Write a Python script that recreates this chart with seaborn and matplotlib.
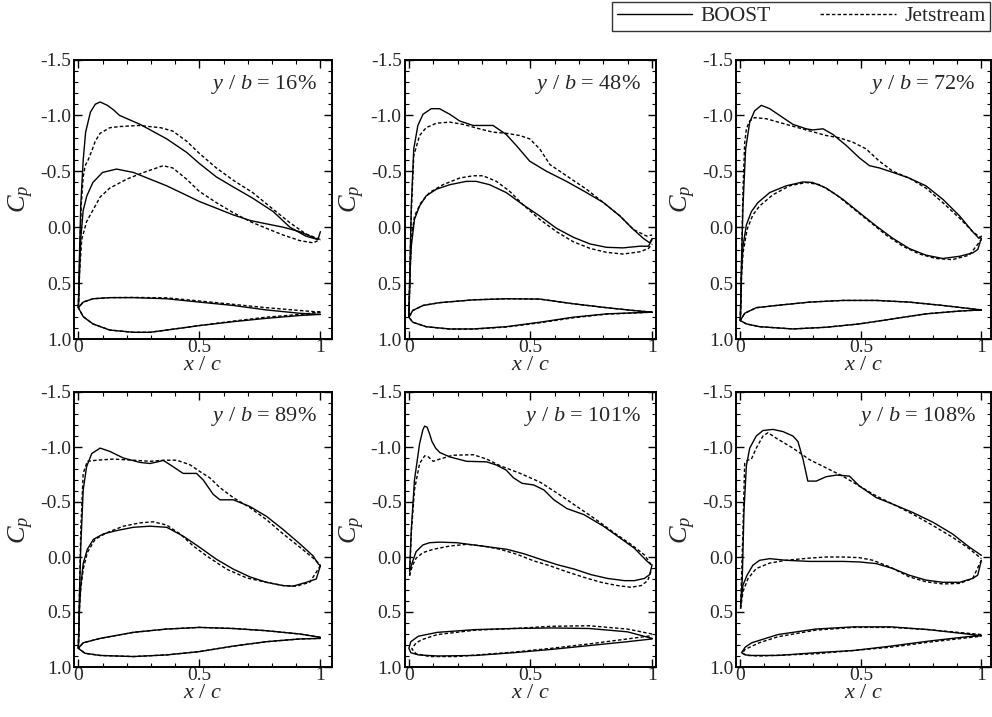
import matplotlib
matplotlib.use("Agg")
import matplotlib.pyplot as plt
import seaborn as sns
from matplotlib.lines import Line2D
from matplotlib.ticker import MultipleLocator

sns.set_theme(style="ticks")
plt.rcParams['font.family'] = ['Liberation Serif', 'DejaVu Serif']
plt.rcParams['mathtext.fontset'] = 'custom'
plt.rcParams['mathtext.it'] = 'Liberation Serif:italic'
plt.rcParams['mathtext.rm'] = 'Liberation Serif'
plt.rcParams['axes.unicode_minus'] = False

# ---------------- data ----------------
STATIONS = ["16", "48", "72", "89", "101", "108"]
SOLVERS = ["BOOST", "Jetstream"]
X_TICKS = [0, 0.5, 1]
X_TICKLABELS = ["0", "0.5", "1"]
Y_TICKS = [-1.5, -1.0, -0.5, 0.0, 0.5, 1.0]
Y_TICKLABELS = ["-1.5", "-1.0", "-0.5", "0.0", "0.5", "1.0"]

# --- y/b = 16% ---
B16_UP = [(0.0,0.72),(0.004,0.3),(0.01,-0.2),(0.02,-0.6),(0.03,-0.85),(0.05,-1.03),(0.07,-1.1),(0.09,-1.12),(0.12,-1.09),(0.145,-1.05),(0.17,-1.0),(0.255,-0.92),(0.365,-0.79),(0.447,-0.67),(0.5,-0.57),(0.57,-0.45),(0.64,-0.36),(0.72,-0.26),(0.805,-0.14),(0.874,0.0),(0.94,0.08),(0.99,0.11),(1.0,0.04)]
B16_LO = [(0.0,0.72),(0.005,0.4),(0.01,0.1),(0.02,-0.15),(0.035,-0.28),(0.06,-0.40),(0.1,-0.49),(0.158,-0.52),(0.227,-0.49),(0.296,-0.43),(0.365,-0.37),(0.433,-0.30),(0.5,-0.23),(0.57,-0.17),(0.64,-0.11),(0.71,-0.06),(0.777,-0.03),(0.846,0.0),(0.915,0.04),(0.99,0.11)]
J16_UP = [(0.0,0.72),(0.005,0.3),(0.012,-0.2),(0.02,-0.45),(0.028,-0.55),(0.04,-0.6),(0.055,-0.68),(0.07,-0.77),(0.09,-0.84),(0.13,-0.89),(0.17,-0.90),(0.25,-0.91),(0.34,-0.89),(0.39,-0.86),(0.447,-0.77),(0.5,-0.66),(0.57,-0.53),(0.64,-0.42),(0.72,-0.31),(0.805,-0.16),(0.874,-0.04),(0.94,0.06),(1.0,0.11)]
J16_LO = [(0.0,0.72),(0.005,0.4),(0.014,0.11),(0.034,-0.05),(0.062,-0.16),(0.09,-0.27),(0.13,-0.35),(0.2,-0.43),(0.27,-0.49),(0.35,-0.55),(0.39,-0.53),(0.447,-0.43),(0.5,-0.32),(0.57,-0.22),(0.64,-0.13),(0.71,-0.05),(0.777,0.01),(0.846,0.07),(0.915,0.12),(0.97,0.14),(1.0,0.11)]
B16_SH_UP = [(0.0,0.72),(0.02,0.67),(0.06,0.64),(0.13,0.63),(0.227,0.63),(0.365,0.64),(0.5,0.67),(0.64,0.70),(0.777,0.74),(0.915,0.77),(1.0,0.78)]
B16_SH_LO = [(0.0,0.72),(0.02,0.80),(0.06,0.865),(0.13,0.92),(0.227,0.94),(0.296,0.94),(0.365,0.92),(0.5,0.88),(0.64,0.845),(0.777,0.815),(0.915,0.79),(1.0,0.78)]
J16_SH_UP = [(0.0,0.72),(0.02,0.67),(0.06,0.64),(0.13,0.63),(0.227,0.628),(0.365,0.632),(0.5,0.66),(0.64,0.69),(0.777,0.72),(0.915,0.745),(1.0,0.76)]
J16_SH_LO = [(0.0,0.72),(0.02,0.80),(0.06,0.865),(0.13,0.92),(0.227,0.94),(0.296,0.94),(0.365,0.92),(0.5,0.88),(0.64,0.84),(0.777,0.805),(0.915,0.78),(1.0,0.76)]

# --- y/b = 48% ---
B48_UP = [(0.0,0.80),(0.005,0.3),(0.01,-0.19),(0.02,-0.70),(0.037,-0.91),(0.058,-1.01),(0.092,-1.06),(0.126,-1.06),(0.168,-1.01),(0.209,-0.95),(0.264,-0.91),(0.346,-0.91),(0.40,-0.83),(0.442,-0.73),(0.497,-0.59),(0.566,-0.50),(0.648,-0.41),(0.73,-0.31),(0.80,-0.22),(0.868,-0.10),(0.923,0.02),(0.964,0.10),(0.99,0.14),(1.0,0.10)]
B48_LO = [(0.0,0.80),(0.005,0.4),(0.01,0.17),(0.023,-0.07),(0.044,-0.19),(0.071,-0.28),(0.113,-0.34),(0.168,-0.38),(0.236,-0.41),(0.277,-0.41),(0.332,-0.38),(0.40,-0.31),(0.47,-0.20),(0.538,-0.10),(0.607,0.01),(0.676,0.09),(0.745,0.15),(0.813,0.18),(0.88,0.185),(0.95,0.17),(0.985,0.17),(1.0,0.11)]
J48_UP = [(0.0,0.80),(0.005,0.3),(0.01,-0.13),(0.02,-0.64),(0.044,-0.82),(0.071,-0.89),(0.113,-0.93),(0.168,-0.94),(0.223,-0.92),(0.29,-0.88),(0.346,-0.85),(0.40,-0.84),(0.456,-0.82),(0.497,-0.79),(0.538,-0.70),(0.58,-0.56),(0.648,-0.46),(0.73,-0.34),(0.80,-0.22),(0.868,-0.10),(0.923,0.02),(0.978,0.08),(1.0,0.07)]
J48_LO = [(0.0,0.80),(0.005,0.4),(0.01,0.11),(0.023,-0.10),(0.05,-0.22),(0.085,-0.31),(0.14,-0.38),(0.209,-0.44),(0.264,-0.46),(0.305,-0.46),(0.36,-0.41),(0.415,-0.32),(0.47,-0.20),(0.538,-0.07),(0.607,0.04),(0.676,0.13),(0.745,0.19),(0.813,0.225),(0.88,0.24),(0.95,0.22),(0.985,0.19),(1.0,0.15)]
B48_SH_UP = [(0.0,0.805),(0.016,0.745),(0.058,0.70),(0.126,0.675),(0.264,0.65),(0.40,0.64),(0.538,0.643),(0.676,0.685),(0.813,0.72),(0.923,0.745),(1.0,0.76)]
B48_SH_LO = [(0.0,0.805),(0.016,0.85),(0.071,0.89),(0.168,0.91),(0.264,0.91),(0.40,0.89),(0.538,0.85),(0.676,0.805),(0.813,0.775),(1.0,0.76)]
J48_SH_UP = B48_SH_UP
J48_SH_LO = [(0.0,0.805),(0.016,0.85),(0.071,0.89),(0.168,0.912),(0.264,0.912),(0.40,0.893),(0.538,0.855),(0.676,0.81),(0.813,0.778),(1.0,0.76)]

# --- y/b = 72% ---
B72_UP = [(0.0,0.835),(0.005,0.3),(0.011,-0.19),(0.022,-0.70),(0.039,-0.94),(0.059,-1.04),(0.087,-1.09),(0.122,-1.06),(0.163,-1.00),(0.218,-0.92),(0.273,-0.88),(0.30,-0.87),(0.343,-0.88),(0.384,-0.83),(0.44,-0.73),(0.494,-0.62),(0.536,-0.55),(0.577,-0.53),(0.633,-0.49),(0.70,-0.44),(0.77,-0.37),(0.84,-0.25),(0.91,-0.10),(0.964,0.04),(0.99,0.10),(1.0,0.08)]
B72_LO = [(0.0,0.835),(0.005,0.4),(0.011,0.17),(0.025,-0.02),(0.046,-0.14),(0.073,-0.22),(0.122,-0.31),(0.19,-0.37),(0.26,-0.405),(0.30,-0.40),(0.356,-0.35),(0.425,-0.25),(0.494,-0.13),(0.564,-0.01),(0.633,0.10),(0.70,0.19),(0.77,0.25),(0.84,0.28),(0.91,0.26),(0.964,0.23),(0.985,0.20),(1.0,0.10)]
J72_UP = [(0.0,0.835),(0.005,0.3),(0.011,-0.34),(0.018,-0.75),(0.025,-0.88),(0.039,-0.95),(0.059,-0.98),(0.108,-0.97),(0.19,-0.92),(0.273,-0.87),(0.356,-0.82),(0.41,-0.80),(0.467,-0.76),(0.522,-0.70),(0.577,-0.59),(0.633,-0.50),(0.70,-0.44),(0.77,-0.35),(0.84,-0.22),(0.91,-0.08),(0.964,0.04),(1.0,0.10)]
J72_LO = [(0.0,0.835),(0.005,0.45),(0.011,0.23),(0.028,0.02),(0.052,-0.11),(0.08,-0.19),(0.135,-0.29),(0.204,-0.37),(0.273,-0.40),(0.33,-0.38),(0.398,-0.29),(0.467,-0.17),(0.536,-0.05),(0.605,0.07),(0.674,0.17),(0.743,0.24),(0.812,0.28),(0.88,0.29),(0.95,0.25),(1.0,0.11)]
B72_SH_UP = [(0.0,0.835),(0.018,0.77),(0.066,0.72),(0.149,0.70),(0.287,0.67),(0.425,0.655),(0.564,0.655),(0.70,0.67),(0.84,0.70),(1.0,0.74)]
B72_SH_LO = [(0.0,0.835),(0.025,0.865),(0.08,0.89),(0.218,0.91),(0.356,0.895),(0.494,0.865),(0.633,0.82),(0.77,0.775),(0.91,0.75),(1.0,0.74)]
J72_SH_UP = B72_SH_UP
J72_SH_LO = B72_SH_LO

# --- y/b = 89% ---
B89_UP = [(0.0,0.83),(0.005,0.3),(0.01,-0.10),(0.02,-0.61),(0.034,-0.82),(0.055,-0.94),(0.09,-0.99),(0.13,-0.96),(0.186,-0.90),(0.254,-0.86),(0.296,-0.85),(0.337,-0.87),(0.35,-0.88),(0.378,-0.84),(0.433,-0.76),(0.488,-0.76),(0.516,-0.70),(0.557,-0.57),(0.585,-0.52),(0.64,-0.52),(0.708,-0.46),(0.777,-0.37),(0.846,-0.25),(0.915,-0.12),(0.97,-0.01),(0.99,0.06),(1.0,0.08)]
B89_LO = [(0.0,0.83),(0.005,0.45),(0.01,0.26),(0.02,0.06),(0.037,-0.07),(0.062,-0.16),(0.103,-0.21),(0.158,-0.24),(0.227,-0.27),(0.296,-0.28),(0.365,-0.27),(0.433,-0.19),(0.50,-0.09),(0.57,0.02),(0.64,0.11),(0.708,0.18),(0.777,0.23),(0.846,0.26),(0.887,0.265),(0.942,0.23),(0.983,0.20),(1.0,0.08)]
J89_UP = [(0.0,0.83),(0.005,0.3),(0.01,-0.25),(0.02,-0.76),(0.037,-0.87),(0.076,-0.88),(0.144,-0.89),(0.227,-0.88),(0.296,-0.87),(0.365,-0.88),(0.406,-0.88),(0.46,-0.84),(0.50,-0.78),(0.543,-0.72),(0.585,-0.63),(0.64,-0.54),(0.708,-0.45),(0.777,-0.34),(0.846,-0.21),(0.915,-0.09),(0.97,0.01),(1.0,0.07)]
J89_LO = [(0.0,0.83),(0.005,0.45),(0.01,0.29),(0.02,0.11),(0.037,-0.04),(0.069,-0.16),(0.117,-0.22),(0.186,-0.28),(0.254,-0.31),(0.31,-0.32),(0.365,-0.29),(0.42,-0.21),(0.475,-0.10),(0.53,-0.01),(0.612,0.11),(0.695,0.19),(0.777,0.23),(0.846,0.26),(0.9,0.265),(0.956,0.23),(1.0,0.08)]
B89_SH_UP = [(0.0,0.83),(0.02,0.78),(0.09,0.74),(0.227,0.685),(0.365,0.655),(0.50,0.64),(0.64,0.65),(0.777,0.67),(0.915,0.70),(1.0,0.73)]
B89_SH_LO = [(0.0,0.83),(0.027,0.875),(0.09,0.895),(0.227,0.905),(0.365,0.89),(0.50,0.86),(0.64,0.81),(0.777,0.77),(0.915,0.745),(1.0,0.74)]
J89_SH_UP = B89_SH_UP
J89_SH_LO = B89_SH_LO

# --- y/b = 101% ---
B101_UP = [(0.003,0.13),(0.01,-0.25),(0.023,-0.70),(0.044,-1.03),(0.058,-1.16),(0.065,-1.19),(0.075,-1.18),(0.085,-1.12),(0.095,-1.05),(0.11,-0.99),(0.127,-0.95),(0.168,-0.91),(0.237,-0.87),(0.32,-0.865),(0.361,-0.835),(0.40,-0.79),(0.43,-0.72),(0.465,-0.67),(0.513,-0.655),(0.555,-0.61),(0.596,-0.52),(0.65,-0.44),(0.72,-0.385),(0.80,-0.28),(0.87,-0.17),(0.927,-0.08),(0.98,0.04),(0.996,0.07)]
B101_LO = [(0.003,0.13),(0.014,0.05),(0.03,-0.05),(0.058,-0.11),(0.085,-0.13),(0.127,-0.135),(0.196,-0.13),(0.265,-0.11),(0.334,-0.09),(0.403,-0.07),(0.472,-0.03),(0.54,0.02),(0.61,0.07),(0.68,0.11),(0.748,0.16),(0.817,0.195),(0.886,0.215),(0.927,0.215),(0.968,0.195),(0.99,0.16),(1.0,0.07)]
J101_UP = [(0.003,0.17),(0.01,-0.22),(0.023,-0.61),(0.044,-0.85),(0.065,-0.92),(0.08,-0.91),(0.1,-0.87),(0.127,-0.89),(0.18,-0.925),(0.265,-0.93),(0.32,-0.89),(0.375,-0.83),(0.458,-0.76),(0.54,-0.68),(0.61,-0.58),(0.68,-0.475),(0.76,-0.355),(0.844,-0.22),(0.913,-0.115),(0.968,-0.02),(0.996,0.07)]
J101_LO = [(0.003,0.17),(0.014,0.08),(0.03,0.01),(0.058,-0.04),(0.1,-0.07),(0.168,-0.10),(0.237,-0.115),(0.306,-0.10),(0.375,-0.07),(0.444,-0.025),(0.513,0.035),(0.58,0.08),(0.65,0.135),(0.72,0.185),(0.79,0.23),(0.858,0.26),(0.913,0.275),(0.955,0.26),(0.982,0.215),(1.0,0.10)]
B101_SH_UP = [(0.0,0.83),(0.008,0.77),(0.039,0.72),(0.117,0.685),(0.273,0.66),(0.43,0.65),(0.586,0.645),(0.742,0.65),(0.898,0.68),(1.0,0.74)]
B101_SH_LO = [(0.0,0.83),(0.008,0.87),(0.039,0.89),(0.117,0.90),(0.273,0.895),(0.43,0.87),(0.586,0.84),(0.742,0.805),(0.898,0.77),(1.0,0.745)]
J101_SH_UP = [(0.012,0.835),(0.03,0.78),(0.055,0.75),(0.117,0.705),(0.273,0.665),(0.43,0.65),(0.586,0.63),(0.742,0.625),(0.898,0.655),(1.0,0.70)]
J101_SH_LO = [(0.012,0.835),(0.03,0.88),(0.086,0.905),(0.195,0.905),(0.43,0.865),(0.586,0.83),(0.742,0.79),(0.898,0.745),(1.0,0.715)]

# --- y/b = 108% ---
B108_UP = [(0.001,0.45),(0.008,0.20),(0.015,-0.41),(0.025,-0.83),(0.039,-0.99),(0.066,-1.10),(0.094,-1.15),(0.135,-1.16),(0.177,-1.14),(0.218,-1.10),(0.239,-1.05),(0.26,-0.89),(0.28,-0.69),(0.315,-0.69),(0.356,-0.73),(0.40,-0.745),(0.453,-0.735),(0.494,-0.645),(0.564,-0.54),(0.633,-0.48),(0.715,-0.405),(0.80,-0.315),(0.88,-0.21),(0.95,-0.09),(1.0,-0.015)]
B108_LO = [(0.001,0.45),(0.011,0.255),(0.028,0.165),(0.052,0.075),(0.08,0.03),(0.122,0.015),(0.19,0.03),(0.287,0.04),(0.356,0.04),(0.425,0.04),(0.494,0.045),(0.564,0.06),(0.633,0.105),(0.70,0.165),(0.77,0.21),(0.84,0.23),(0.91,0.23),(0.964,0.195),(0.985,0.165),(1.0,0.03)]
J108_UP = [(0.001,0.47),(0.011,-0.26),(0.018,-0.85),(0.03,-0.88),(0.046,-0.89),(0.066,-0.99),(0.094,-1.10),(0.115,-1.13),(0.149,-1.08),(0.218,-0.99),(0.287,-0.885),(0.356,-0.81),(0.425,-0.735),(0.494,-0.645),(0.564,-0.555),(0.633,-0.48),(0.715,-0.39),(0.80,-0.285),(0.88,-0.18),(0.95,-0.075),(1.0,0.015)]
J108_LO = [(0.001,0.47),(0.011,0.315),(0.032,0.195),(0.066,0.105),(0.122,0.055),(0.19,0.03),(0.287,0.01),(0.356,0.0),(0.425,0.0),(0.494,0.006),(0.55,0.03),(0.62,0.09),(0.70,0.18),(0.77,0.225),(0.84,0.245),(0.91,0.24),(0.964,0.195),(1.0,0.03)]
B108_SH_UP = [(0.005,0.87),(0.02,0.82),(0.047,0.78),(0.156,0.705),(0.3125,0.655),(0.47,0.635),(0.625,0.635),(0.78,0.66),(0.94,0.70),(1.0,0.715)]
B108_SH_LO = [(0.005,0.87),(0.02,0.89),(0.047,0.895),(0.156,0.895),(0.3125,0.87),(0.47,0.85),(0.625,0.81),(0.78,0.765),(0.94,0.725),(1.0,0.715)]
J108_SH_UP = [(0.008,0.875),(0.02,0.84),(0.078,0.78),(0.156,0.725),(0.3125,0.665),(0.47,0.64),(0.625,0.64),(0.78,0.66),(1.0,0.705)]
J108_SH_LO = [(0.008,0.875),(0.03,0.895),(0.078,0.90),(0.3125,0.88),(0.625,0.82),(0.78,0.775),(1.0,0.72)]

PANELS = {
    "16":  (B16_UP, B16_LO, B16_SH_UP, B16_SH_LO, J16_UP, J16_LO, J16_SH_UP, J16_SH_LO),
    "48":  (B48_UP, B48_LO, B48_SH_UP, B48_SH_LO, J48_UP, J48_LO, J48_SH_UP, J48_SH_LO),
    "72":  (B72_UP, B72_LO, B72_SH_UP, B72_SH_LO, J72_UP, J72_LO, J72_SH_UP, J72_SH_LO),
    "89":  (B89_UP, B89_LO, B89_SH_UP, B89_SH_LO, J89_UP, J89_LO, J89_SH_UP, J89_SH_LO),
    "101": (B101_UP, B101_LO, B101_SH_UP, B101_SH_LO, J101_UP, J101_LO, J101_SH_UP, J101_SH_LO),
    "108": (B108_UP, B108_LO, B108_SH_UP, B108_SH_LO, J108_UP, J108_LO, J108_SH_UP, J108_SH_LO),
}

# ---------------- layout ----------------
W, H = 992, 717
fig = plt.figure(figsize=(W / 100, H / 100), dpi=100)
COLS = [(74, 332, 1.048), (404.5, 656, 1.016), (736, 991, 1.04)]
ROWS = [(59.5, 339), (392, 667)]

SOLID = dict(color="black", linewidth=1.0, linestyle="-")
DASH = dict(color="black", linewidth=1.0, linestyle=(0, (2.5, 1.6)))


def draw(ax, pts, style):
    xs = [p[0] for p in pts]
    ys = [p[1] for p in pts]
    sns.lineplot(x=xs, y=ys, sort=False, estimator=None, ax=ax, **style)


for i, st in enumerate(STATIONS):
    r, c = divmod(i, 3)
    l, rr, xmax = COLS[c]
    t, b = ROWS[r]
    ax = fig.add_axes([l / W, 1 - b / H, (rr - l) / W, (b - t) / H])
    bu, bl, bsu, bsl, ju, jl, jsu, jsl = PANELS[st]
    draw(ax, ju, DASH)
    draw(ax, jl, DASH)
    draw(ax, list(reversed(jsu)) + jsl[1:], DASH)
    draw(ax, bu, SOLID)
    draw(ax, bl, SOLID)
    draw(ax, list(reversed(bsu)) + bsl[1:], SOLID)

    ax.set_xlim(-0.018, xmax)
    ax.set_ylim(1.0, -1.5)
    ax.set_xticks(X_TICKS)
    ax.set_xticklabels(X_TICKLABELS)
    ax.set_yticks(Y_TICKS)
    ax.set_yticklabels(Y_TICKLABELS)
    ax.xaxis.set_minor_locator(MultipleLocator(0.1))
    ax.yaxis.set_minor_locator(MultipleLocator(0.1))
    ax.tick_params(which="both", direction="in", top=True, right=True, color="black")
    ax.tick_params(which="major", length=6, width=1.0, labelsize=14)
    ax.tick_params(axis="y", which="major", pad=2)
    ax.tick_params(axis="x", which="major", pad=0)
    ax.tick_params(which="minor", length=3, width=0.8)
    for s in ax.spines.values():
        s.set_linewidth(1.4)
        s.set_color("black")
    ax.set_xlabel(r"$x$ / $c$", fontsize=16, labelpad=0)
    ax.set_ylabel(r"$C_p$", fontsize=19, labelpad=3)
    ax.text(0.94, 0.91, r"$y$ / $b$ = " + st + "%", transform=ax.transAxes,
            ha="right", va="center", fontsize=16)

handles = [Line2D([], [], **SOLID), Line2D([], [], **DASH)]
leg = fig.legend(handles, SOLVERS, loc="upper right", bbox_to_anchor=(990 / W, 1 - 2 / H),
                 ncol=2, frameon=True, fancybox=False, edgecolor="black", fontsize=15.5,
                 handlelength=3.5, handletextpad=0.4, columnspacing=2.3,
                 borderpad=0.2, borderaxespad=0.0)
leg.get_frame().set_linewidth(1.0)

fig.savefig("out.png", dpi=100)
